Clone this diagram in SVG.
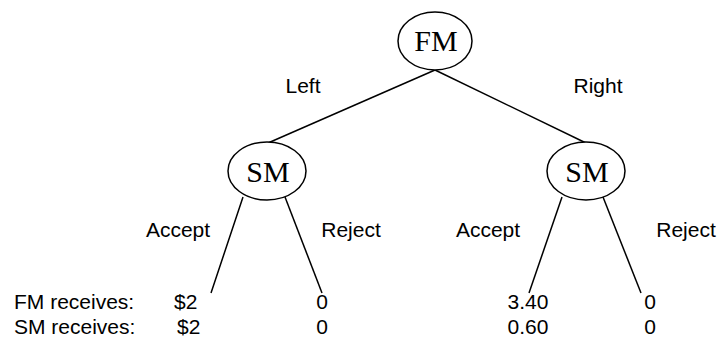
<svg xmlns="http://www.w3.org/2000/svg" width="720" height="349" viewBox="0 0 720 349">
<style>
.node{fill:#fff;stroke:#000;stroke-width:1.5}
.nt{font-family:"Liberation Serif",serif;font-size:30px;text-anchor:middle;fill:#000}
.lbl{font-family:"Liberation Sans",Arial,sans-serif;font-size:21px;fill:#000}
.c{text-anchor:middle}
.edge{stroke:#000;stroke-width:1.5;fill:none}
</style>
<rect width="720" height="349" fill="#fff"/>
<g id="connectors">
<line class="edge" x1="435" y1="70" x2="268" y2="143"/>
<line class="edge" x1="435" y1="70" x2="586" y2="143"/>
<line class="edge" x1="243" y1="197" x2="211" y2="293"/>
<line class="edge" x1="285" y1="197" x2="322" y2="293"/>
<line class="edge" x1="562" y1="197" x2="529" y2="293"/>
<line class="edge" x1="603" y1="197" x2="641" y2="293"/>
</g>
<g id="fm">
<ellipse class="node" cx="435" cy="41" rx="37" ry="29"/>
<text class="nt" x="436" y="51">FM</text>
</g>
<g id="sm-left">
<ellipse class="node" cx="267" cy="171" rx="39" ry="29"/>
<text class="nt" x="268" y="182">SM</text>
</g>
<g id="sm-right">
<ellipse class="node" cx="586" cy="171" rx="39" ry="29"/>
<text class="nt" x="587" y="182">SM</text>
</g>
<g id="labels">
<text class="lbl c" x="303" y="93">Left</text>
<text class="lbl c" x="598" y="93">Right</text>
<text class="lbl c" x="178" y="237">Accept</text>
<text class="lbl c" x="351" y="237">Reject</text>
<text class="lbl c" x="488" y="237">Accept</text>
<text class="lbl c" x="686" y="237">Reject</text>
<text class="lbl" x="14" y="309">FM receives:</text>
<text class="lbl" x="14" y="334">SM receives:</text>
<text class="lbl" x="174" y="309">$2</text>
<text class="lbl" x="177" y="334">$2</text>
<text class="lbl c" x="322" y="309">0</text>
<text class="lbl c" x="322" y="334">0</text>
<text class="lbl c" x="528" y="309">3.40</text>
<text class="lbl c" x="528" y="334">0.60</text>
<text class="lbl c" x="650" y="309">0</text>
<text class="lbl c" x="650" y="334">0</text>
</g>
</svg>
